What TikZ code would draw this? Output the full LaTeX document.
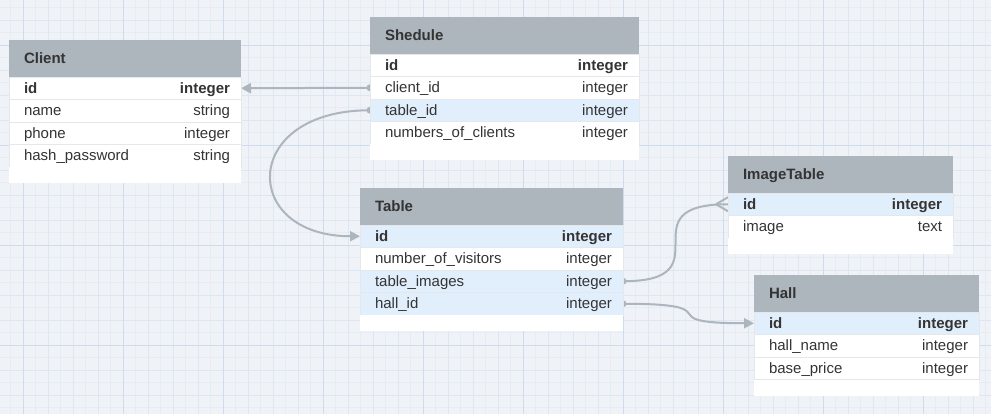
\documentclass[tikz,border=0pt]{standalone}
\usepackage{fontspec}
\setmainfont{Liberation Sans}
\usetikzlibrary{positioning, arrows.meta}

\definecolor{headgray}{HTML}{ADB5BD}
\definecolor{hotblue}{HTML}{E1EEFB}
\definecolor{sepline}{HTML}{E4E8EC}
\definecolor{inkdark}{HTML}{343434}
\definecolor{paper}{HTML}{EFF2F6}
\definecolor{gridfine}{HTML}{E6ECF3}
\definecolor{gridmid}{HTML}{DDE6F1}
\definecolor{gridbold}{HTML}{CEDCEC}
\definecolor{wire}{HTML}{ADB5BD}

\pgfdeclarelayer{grid}
\pgfdeclarelayer{wires}
\pgfsetlayers{grid,wires,main}

% name on the left, type on the right
\newcommand{\rowpair}[2]{\hspace*{4pt}#1\hfill#2}

\tikzset{
  cell/.style={inner xsep=11pt, inner ysep=0pt, outer sep=0pt,
    text height=12.5pt, text depth=2.5pt},
  tblhead/.style={cell, anchor=north west, fill=headgray, minimum height=37pt,
    font=\fontsize{15}{18}\selectfont\bfseries},
  field/.style={cell, fill=white, draw=sepline, line width=0.8pt, minimum height=22.5pt},
  hot/.style={field, fill=hotblue},
  pk/.style={font=\fontsize{15}{18}\selectfont\bfseries},
  tblfoot/.style={cell, fill=white, minimum height=16pt},
  link/.style={draw=wire, line width=2pt},
  tip/.style={-{Triangle[length=10pt,width=10pt]}}
}

\begin{document}
\begin{tikzpicture}[x=1pt, y=-1pt,
  every node/.style={font=\fontsize{15}{18}\selectfont, text=inkdark}]
\useasboundingbox (0,0) rectangle (991,414);

% grid paper
\begin{pgfonlayer}{grid}
  \fill[paper] (0,0) rectangle (991,414);
  \foreach \gx in {0,...,78} \draw[gridfine, line width=0.6pt] ({10.5+12.5*\gx},0) -- ++(0,414);
  \foreach \gy in {0,...,32} \draw[gridfine, line width=0.6pt] (0,{7.5+12.5*\gy}) -- ++(991,0);
  \foreach \gx in {0,...,38} \draw[gridmid, line width=0.7pt] ({23+25*\gx},0) -- ++(0,414);
  \foreach \gy in {0,...,15} \draw[gridmid, line width=0.7pt] (0,{20+25*\gy}) -- ++(991,0);
  \foreach \gx in {0,...,9} \draw[gridbold, line width=0.8pt] ({23+100*\gx},0) -- ++(0,414);
  \foreach \gy in {0,...,3} \draw[gridbold, line width=0.8pt] (0,{45+100*\gy}) -- ++(991,0);
\end{pgfonlayer}

% Client
\begin{scope}[every node/.append style={minimum width=232pt, text width=210pt}]
  \node[tblhead] (client) at (9,40) {\hspace*{4pt}Client};
  \node[field, pk, below=0pt of client] (client-id) {\rowpair{id}{integer}};
  \node[field, below=0pt of client-id] (client-name) {\rowpair{name}{string}};
  \node[field, below=0pt of client-name] (client-phone) {\rowpair{phone}{integer}};
  \node[field, below=0pt of client-phone] (client-hash) {\rowpair{hash\_password}{string}};
  \node[tblfoot, below=0pt of client-hash] (client-foot) {};
\end{scope}

% Shedule
\begin{scope}[every node/.append style={minimum width=269pt, text width=247pt}]
  \node[tblhead] (shed) at (370,17) {\hspace*{4pt}Shedule};
  \node[field, pk, below=0pt of shed] (shed-id) {\rowpair{id}{integer}};
  \node[field, below=0pt of shed-id] (shed-client) {\rowpair{client\_id}{integer}};
  \node[hot, below=0pt of shed-client] (shed-table) {\rowpair{table\_id}{integer}};
  \node[field, below=0pt of shed-table] (shed-num) {\rowpair{numbers\_of\_clients}{integer}};
  \node[tblfoot, below=0pt of shed-num] (shed-foot) {};
\end{scope}

% Table
\begin{scope}[every node/.append style={minimum width=263pt, text width=241pt}]
  \node[tblhead] (tbl) at (360,188) {\hspace*{4pt}Table};
  \node[hot, pk, below=0pt of tbl] (tbl-id) {\rowpair{id}{integer}};
  \node[field, below=0pt of tbl-id] (tbl-visitors) {\rowpair{number\_of\_visitors}{integer}};
  \node[hot, below=0pt of tbl-visitors] (tbl-images) {\rowpair{table\_images}{integer}};
  \node[hot, below=0pt of tbl-images] (tbl-hall) {\rowpair{hall\_id}{integer}};
  \node[tblfoot, below=0pt of tbl-hall] (tbl-foot) {};
\end{scope}

% ImageTable
\begin{scope}[every node/.append style={minimum width=225pt, text width=203pt}]
  \node[tblhead] (img) at (728,156) {\hspace*{4pt}ImageTable};
  \node[hot, pk, below=0pt of img] (img-id) {\rowpair{id}{integer}};
  \node[field, below=0pt of img-id] (img-image) {\rowpair{image}{text}};
  \node[tblfoot, below=0pt of img-image] (img-foot) {};
\end{scope}

% Hall
\begin{scope}[every node/.append style={minimum width=225pt, text width=203pt}]
  \node[tblhead] (hall) at (754,275) {\hspace*{4pt}Hall};
  \node[hot, pk, below=0pt of hall] (hall-id) {\rowpair{id}{integer}};
  \node[field, below=0pt of hall-id] (hall-name) {\rowpair{hall\_name}{integer}};
  \node[field, below=0pt of hall-name] (hall-price) {\rowpair{base\_price}{integer}};
  \node[tblfoot, below=0pt of hall-price] (hall-foot) {};
\end{scope}

% relations, under the tables
\begin{pgfonlayer}{wires}
  \foreach \src in {shed-client.west, shed-table.west, tbl-images.east, tbl-hall.east}
    \fill[wire] (\src) circle (3.5);
  \draw[link, tip] (shed-client.west) -- (client-id.east);
  \draw[link, tip] (shed-table.west) .. controls +(-130,0) and +(-120,0) .. (tbl-id.west);
  \draw[link] (tbl-images.east) .. controls +(105,0) and +(-105,0) .. (img-id.west);
  \draw[link] ([xshift=-12pt]img-id.west) -- ([yshift=7pt]img-id.west)
              ([xshift=-12pt]img-id.west) -- ([yshift=-7pt]img-id.west);
  \draw[link, tip] (tbl-hall.east) .. controls +(114,0) and +(-110,0) .. (hall-id.west);
\end{pgfonlayer}

\end{tikzpicture}
\end{document}
